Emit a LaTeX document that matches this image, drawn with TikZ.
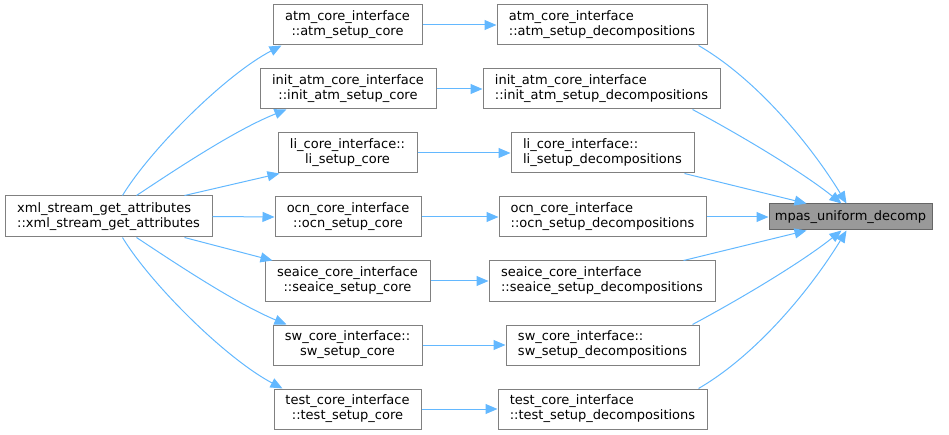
\documentclass[tikz,border=0pt]{standalone}
\usepackage{fontspec}
\setmainfont{DejaVu Sans}
\usetikzlibrary{arrows.meta}
\definecolor{edgeblue}{HTML}{63B8FF}
\definecolor{boxgray}{HTML}{808080}
\definecolor{rootfill}{HTML}{999999}
\definecolor{rootline}{HTML}{666666}
\begin{document}
\begin{tikzpicture}[x=1pt,y=-1pt,
  font=\fontsize{13}{15}\selectfont,
  fn/.style={draw=boxgray, line width=1pt, fill=white, inner sep=0pt, minimum height=40pt, align=center},
  fnl/.style={fn, align=left},
  root/.style={draw=rootline, line width=1pt, fill=rootfill, inner sep=0pt, minimum height=26pt, minimum width=163pt},
  edge/.style={draw=edgeblue, line width=1pt, -{Triangle[length=12pt,width=10pt]}}]
\useasboundingbox (0,0) rectangle (949,435);

% left
\node[fnl, minimum width=207pt, minimum height=41pt] (xml) at (108.5,216.5) {xml\_stream\_get\_attributes\\::xml\_stream\_get\_attributes};

% column 2
\node[fn, minimum width=149pt] (atmc) at (347.5,25) {atm\_core\_interface\\::atm\_setup\_core};
\node[fn, minimum width=176pt] (initc) at (348,89) {init\_atm\_core\_interface\\::init\_atm\_setup\_core};
\node[fn, minimum width=139pt] (lic) at (347.5,153) {li\_core\_interface::\\li\_setup\_core};
\node[fn, minimum width=146pt] (ocnc) at (348,217) {ocn\_core\_interface\\::ocn\_setup\_core};
\node[fn, minimum width=165pt] (seaicec) at (347.5,281) {seaice\_core\_interface\\::seaice\_setup\_core};
\node[fn, minimum width=149pt] (swc) at (347.5,345) {sw\_core\_interface::\\sw\_setup\_core};
\node[fn, minimum width=147pt] (testc) at (347.5,409) {test\_core\_interface\\::test\_setup\_core};

% column 3
\node[fnl, minimum width=210pt] (atmd) at (602,25) {atm\_core\_interface\\::atm\_setup\_decompositions};
\node[fnl, minimum width=237pt] (initd) at (601.5,89) {init\_atm\_core\_interface\\::init\_atm\_setup\_decompositions};
\node[fnl, minimum width=183pt] (lid) at (602.5,153) {li\_core\_interface::\\li\_setup\_decompositions};
\node[fnl, minimum width=207pt] (ocnd) at (602.5,217) {ocn\_core\_interface\\::ocn\_setup\_decompositions};
\node[fnl, minimum width=226pt] (seaiced) at (602,281) {seaice\_core\_interface\\::seaice\_setup\_decompositions};
\node[fnl, minimum width=193pt] (swd) at (602.5,345) {sw\_core\_interface::\\sw\_setup\_decompositions};
\node[fnl, minimum width=209pt] (testd) at (602.5,409) {test\_core\_interface\\::test\_setup\_decompositions};

% root
\node[root] (mpas) at (850.5,217) {mpas\_uniform\_decomp};

% xml -> column 2
\draw[edge] ([xshift=118pt]xml.north west) .. controls (150,150) and (225,75) .. ([xshift=9pt]atmc.south west);
\draw[edge] ([xshift=132pt]xml.north west) .. controls (175,170) and (235,130) .. ([xshift=27pt]initc.south west);
\draw[edge] ([xshift=180pt]xml.north west) -- ([xshift=2pt]lic.south west);
\draw[edge] (xml.east) -- (ocnc.west);
\draw[edge] ([xshift=180pt]xml.south west) -- ([xshift=8pt]seaicec.north west);
\draw[edge] ([xshift=132pt]xml.south west) .. controls (175,263) and (235,303) .. ([xshift=14pt]swc.north west);
\draw[edge] ([xshift=118pt]xml.south west) .. controls (150,283) and (225,358) .. ([xshift=9pt]testc.north west);

% column 2 -> column 3
\draw[edge] (atmc) -- (atmd);
\draw[edge] (initc) -- (initd);
\draw[edge] (lic) -- (lid);
\draw[edge] (ocnc) -- (ocnd);
\draw[edge] (seaicec) -- (seaiced);
\draw[edge] (swc) -- (swd);
\draw[edge] (testc) -- (testd);

% column 3 -> root
\draw[edge] ([xshift=-9pt]atmd.south east) .. controls (758,80) and (812,147) .. ([xshift=78pt]mpas.north west);
\draw[edge] ([xshift=-28pt]initd.south east) .. controls (742,136) and (802,172) .. ([xshift=73pt]mpas.north west);
\draw[edge] ([xshift=-10pt]lid.south east) -- ([xshift=38pt]mpas.north west);
\draw[edge] (ocnd.east) -- (mpas.west);
\draw[edge] ([xshift=-32pt]seaiced.north east) -- ([xshift=38pt]mpas.south west);
\draw[edge] ([xshift=-7pt]swd.north east) .. controls (742,298) and (802,262) .. ([xshift=73pt]mpas.south west);
\draw[edge] ([xshift=-9pt]testd.north east) .. controls (758,354) and (812,287) .. ([xshift=78pt]mpas.south west);
\end{tikzpicture}
\end{document}
